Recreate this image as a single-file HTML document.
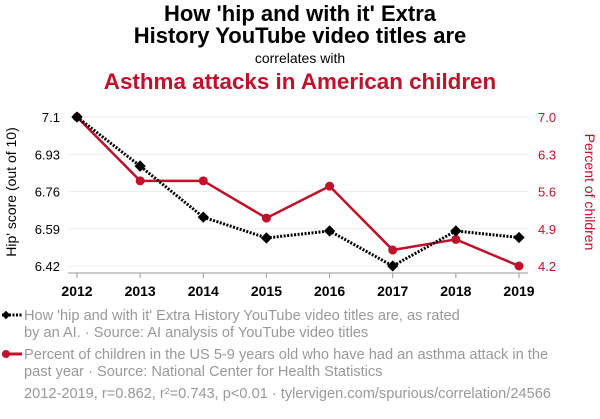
<!DOCTYPE html>
<html><head><meta charset="utf-8"><style>
body{margin:0;background:#fff;width:600px;height:414px;overflow:hidden;font-family:"Liberation Sans",sans-serif}
</style></head><body>
<svg width="600" height="414" xmlns="http://www.w3.org/2000/svg" font-family="Liberation Sans, sans-serif">
<text x="300" y="21" text-anchor="middle" font-size="22" font-weight="bold">How 'hip and with it' Extra</text>
<text x="300" y="43" text-anchor="middle" font-size="22" font-weight="bold">History YouTube video titles are</text>
<text x="300" y="63" text-anchor="middle" font-size="14">correlates with</text>
<text x="300" y="89" text-anchor="middle" font-size="22.4" font-weight="bold" fill="#c0102a">Asthma attacks in American children</text>
<g id="grid"></g>
<line x1="68" y1="273" x2="528" y2="273" stroke="#999"/>
<g id="axes"></g>
<text transform="translate(16,192) rotate(-90)" text-anchor="middle" font-size="14">Hip' score (out of 10)</text>
<text transform="translate(585,192) rotate(90)" text-anchor="middle" font-size="14" fill="#c0102a">Percent of children</text>
<g id="series"></g>
<g>
<line x1="2" y1="315" x2="22" y2="315" stroke="#000" stroke-width="3" stroke-dasharray="2,1.5"/>
<rect x="3" y="312" width="6" height="6" transform="rotate(45 6 315)" fill="#000"/>
<text x="24" y="320" font-size="14.6" fill="#999">How 'hip and with it' Extra History YouTube video titles are, as rated</text>
<text x="24" y="337" font-size="14.6" fill="#999">by an AI. · Source: AI analysis of YouTube video titles</text>
<line x1="2" y1="354" x2="22" y2="354" stroke="#c0102a" stroke-width="3"/>
<circle cx="6" cy="354" r="4" fill="#c0102a"/>
<text x="24" y="359" font-size="14.6" fill="#999">Percent of children in the US 5-9 years old who have had an asthma attack in the</text>
<text x="24" y="376" font-size="14.6" fill="#999">past year · Source: National Center for Health Statistics</text>
<text x="24" y="398" font-size="14.6" fill="#999">2012-2019, r=0.862, r²=0.743, p&lt;0.01 · tylervigen.com/spurious/correlation/24566</text>
</g>
</svg>
<script>
const years=[2012,2013,2014,2015,2016,2017,2018,2019];
const hipValues=[7.1,6.876,6.643,6.548,6.58,6.42,6.58,6.55];
const asthmaValues=[7.0,5.8,5.8,5.1,5.7,4.5,4.7,4.2];
const leftTicks=["6.42","6.59","6.76","6.93","7.1"];
const rightTicks=["4.2","4.9","5.6","6.3","7.0"];
const NS="http://www.w3.org/2000/svg";
const x=i=>77+i*(519-77)/(years.length-1);
const yL=v=>266-(v-6.42)*(149/0.68);
const yR=v=>266-(v-4.2)*(149/2.8);
function mk(tag,attrs,parent,text){const e=document.createElementNS(NS,tag);for(const k in attrs)e.setAttribute(k,attrs[k]);if(text!==undefined)e.textContent=text;document.getElementById(parent).appendChild(e);return e;}
leftTicks.forEach((t,i)=>{const y=yL(parseFloat(t));
 const g=mk('line',{x1:68,x2:528,y1:y,y2:y,stroke:'#eee'},'grid');
 
 
 const a=mk('text',{x:60,y:y+5,'text-anchor':'end','font-size':13},'axes',t);
 
 
 const b=mk('text',{x:538,y:yR(parseFloat(rightTicks[i]))+5,'font-size':13,fill:'#c0102a'},'axes',rightTicks[i]);
 
 
});
years.forEach((yr,i)=>{
 mk('line',{x1:x(i),x2:x(i),y1:273,y2:278,stroke:'#999'},'axes');
 const t=mk('text',{x:x(i),y:296,'text-anchor':'middle','font-size':14,'font-weight':'bold'},'axes',yr);
 
 
});
const rl=mk('polyline',{points:asthmaValues.map((v,i)=>x(i)+','+yR(v)).join(' '),fill:'none',stroke:'#c0102a','stroke-width':2.5},'series');


const bl=mk('polyline',{points:hipValues.map((v,i)=>x(i)+','+yL(v)).join(' '),fill:'none',stroke:'#000','stroke-width':3,'stroke-dasharray':'2,1.5'},'series');


asthmaValues.forEach((v,i)=>{const c=mk('circle',{cx:x(i),cy:yR(v),r:4.5,fill:'#c0102a'},'series');
 
 });
hipValues.forEach((v,i)=>{const X=x(i),Y=yL(v);const r=mk('rect',{x:X-4,y:Y-4,width:8,height:8,fill:'#000',transform:`rotate(45 ${X} ${Y})`},'series');
 
 });
</script>
</body></html>
